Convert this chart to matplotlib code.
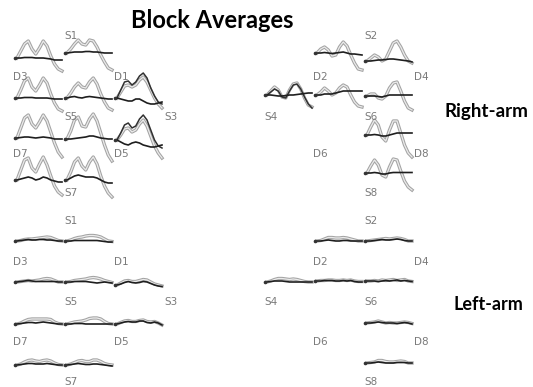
import matplotlib.pyplot as plt
import matplotlib.patheffects as pe
from matplotlib.transforms import offset_copy

W, H = 533, 387

# block window, seconds
time_s = [0, 2, 4, 6, 8, 10, 12, 14, 16, 18, 20, 22, 24]

# --- Right-arm block averages (HbO grey, HbR black) ---
right_hbo = [
    [0, 7, 14, 17, 9, 4, 10, 17, 12, 2, -6, -11, -13],
    [0, 4, 9, 13, 9, 8, 13, 12, 6, -2, -9, -15, -17],
    [0, 8, 17, 20, 11, 7, 13, 20, 15, 4, -5, -11, -13],
    [0, 5, 11, 15, 11, 10, 16, 20, 14, 4, -4, -10, -12],
    [0, 6, 12, 13, 11, 13, 18, 21, 16, 8, 0, -6, -10],
    [0, 10, 20, 23, 14, 10, 16, 23, 17, 6, -5, -14, -19],
    [0, 8, 19, 22, 13, 12, 20, 25, 18, 6, -6, -16, -22],
    [0, 5, 11, 12, 8, 10, 16, 20, 14, 4, -6, -13, -18],
    [0, 10, 20, 22, 12, 8, 16, 23, 15, 4, -6, -12, -15],
    [0, 8, 18, 22, 14, 10, 18, 23, 16, 4, -6, -13, -17],
    [0, 4, 6, 3, -3, -2, 6, 11, 7, -2, -10, -16, -17],
    [0, 3, 6, 4, 0, 2, 10, 18, 20, 14, 6, 0, -2],
    [0, 4, 8, 5, -2, -3, 5, 11, 12, 6, -3, -10, -12],
    [0, 3, 7, 4, 0, 2, 7, 10, 8, 0, -7, -11, -12],
    [0, 2, 2, -2, -3, 0, 8, 13, 14, 5, -5, -12, -14],
    [0, 8, 15, 10, -2, -6, 5, 14, 14, 2, -10, -18, -22],
    [0, 7, 13, 8, -2, -4, 6, 14, 13, 2, -8, -14, -17],
]
right_hbr = [
    [0, 0, 0.5, 0.5, 0.5, 0, 0, 0, -0.5, -1, -2, -2, -2],
    [0, 0.5, 1, 1, 1, 1.5, 1.5, 1, 1, 0.5, 0, 0, 0],
    [0, 0, 0.5, 0.5, 0.5, 0, 0, 0, 0, -0.5, -1, -1, -1],
    [0, 1, 1.5, 0.5, 0, 1, 1.5, 1, 0.5, 0, -0.5, -1, -1],
    [0, -1, -2, -3, -3, -1, -1, -3, -5, -6, -6, -5, -4],
    [0, 0.5, 1, 1, 0.5, 0, 0.5, 1, 0.5, 0, -1, -1, -1],
    [0, 0, 0.5, 1, 1.5, 2, 3, 3, 2, 1, 0.5, 0, 0],
    [0, -2, -4, -5, -3, -2, -3, -5, -6, -7, -7, -6, -5],
    [0, 1, 2, 3, 2, 0, 1, 3, 2, 0, -1, -2, -2],
    [0, 2, 4, 5, 4, 3, 3, 3, 2, 0, -2, -3, -3],
    [0, 0, 0.5, 0, -0.5, 0, 0.5, 1, 0, -1, -1, -1.5, -2],
    [0, 0, 0.5, 1, 1, 1.5, 2, 2, 1.5, 1, 0.5, 0, -1],
    [0, 0, -0.5, -1, -1, -0.5, 0, 0, 0.5, 1, 1.5, 2, 2],
    [0, 0, 1, 1, 1, 2, 3, 4, 4, 4, 4, 4, 4],
    [0, 0, 0, -0.5, -1, 0, 1, 1, 1, 1, 1, 1, 1],
    [0, 0, 0.5, 0, -1, -1, 0, 1, 2, 2, 2, 2, 2],
    [0, 0, 0.5, 0, -1, -1, 0, 0.5, 0.5, 0.5, 0.5, 0.5, 0.5],
]
# HbT where it separates from HbO
right_hbt = {
    4: [0, 8, 16, 17, 13, 16, 22, 25, 20, 10, 2, -4, -6],
    7: [0, 7, 15, 17, 12, 14, 21, 25, 20, 10, 0, -6, -8],
    12: [0, 3, 6, 4, -2, -3, 4, 10, 11, 6, -2, -9, -13],
}

# --- Left-arm block averages ---
left_hbo = [
    [0, 0.5, 1.5, 2, 2, 2.5, 3, 3.5, 4, 3.5, 2, 0.5, 0],
    [0, 1, 2.5, 3.5, 4, 5, 5.5, 5.5, 5, 4, 2, 0, -0.5],
    [0, 0.5, 1, 1.5, 1, 1.5, 2, 3, 3.5, 3, 1.5, 0, 0],
    [0, 0.5, 1.5, 2, 2.5, 3, 4, 4.5, 4, 3, 1.5, 0.5, -0.5],
    [0, 2, 4, 4.5, 3.5, 3.5, 4.5, 5.5, 5, 3, 1, 0, -1],
    [0, 1, 3, 4.5, 5, 5, 5, 5, 5, 4.5, 2, 0.5, 0],
    [0, 1, 2, 2.5, 3, 4, 5.5, 6, 6, 5, 2.5, 0.5, 0],
    [0, 1.5, 3, 3.5, 2.5, 2.5, 3.5, 4, 2.5, 2, 2.5, 1, -1],
    [0, 1, 3, 4.5, 5, 4, 3.5, 4.5, 5, 4, 2, 0.5, 0],
    [0, 1, 2.5, 4, 4.5, 3.5, 3.5, 5, 5, 3.5, 1.5, 0.5, 0],
    [0, 0.5, 2, 3.5, 3.5, 3, 3, 3.5, 3, 2, 1, 0, 0],
    [0, 0.5, 1, 1.5, 2, 2.5, 2, 2.5, 3, 2.5, 1.5, 0, 0],
    [0, 1, 2.5, 3.5, 3.5, 3, 2.5, 3, 2.5, 1.5, 0.5, 0, 0],
    [0, 0.5, 0.5, 1, 1, 0.5, 0.5, 1, 0.5, 1, 0, -0.5, -0.5],
    [0, 0, 0.5, 0, 1, 0.5, 1, 1.5, 0.5, 1, 1.5, 0, -0.5],
    [0, 0.5, 1, 2, 1, 0, 0.5, 0, 0, 0.5, 1, 0.5, -0.5],
    [0, 0.5, 1, 2.5, 2.5, 1.5, 1, 1, 1.5, 2, 1.5, 0, 0],
]
left_hbr = [
    [0, 0.5, 1, 1.5, 1, 1, 1.5, 1.5, 1, 1, 0.5, 0, 0],
    [0, 0, 0.5, 0.5, 0.5, 0.5, 0.5, 0.5, 0.5, 0, -0.5, -1, -1],
    [0, 0.5, 1, 1.5, 1, 0.5, 0.5, 0.5, 0.5, 0.5, 0.5, 0, 0],
    [0, 0, 0.5, 0.5, 0.5, 0.5, 0, -0.5, -1, -0.5, 0, -0.5, -1],
    [0, 1, 2.5, 3.5, 2.5, 2, 2.5, 3.5, 3, 1.5, 0, -1, -1.5],
    [0, 0.5, 1, 1.5, 1.5, 1, 1.5, 2, 1.5, 1, 0.5, 0, 0],
    [0, 0, 0.5, 0.5, 0.5, 0, 0, 0, 0, 0, 0, 0, 0],
    [0, 1, 2, 2.5, 2, 2, 3, 3, 1.5, 1, 2, 1, -1],
    [0, 0.5, 1, 1.5, 1.5, 1, 1, 1, 1.5, 1, 0.5, 0, 0],
    [0, 0.5, 1, 1.5, 1, 0.5, 0.5, 1, 1, 0.5, 0, -0.5, -1],
    [0, 0, 0.5, 1, 0.5, 0, 0, 0.5, 0.5, 0, 0, 0, 0],
    [0, 0, 0.5, 1, 1.5, 1, 1, 1.5, 2, 1.5, 0.5, 0, 0],
    [0, 0.5, 1, 1, 1, 0.5, 0, 0, 0, 0, 0, 0, 0],
    [0, 0, 0.5, 0.5, 0.5, 0, 0, 0.5, 0, 0.5, -0.5, -1, -1],
    [0, 0, 0, -0.5, 0, 0.5, 0, 0.5, 1, 0, 0.5, 0, -0.5],
    [0, 0, 0.5, 1, 0.5, 0, 0, 0, -0.5, 0, 0.5, 0, -1],
    [0, 0, 0.5, 1, 0.5, 0, 0, 0, 0.5, 0.5, 0.5, 0, 0],
]

# optode labels
optode_names = ['S1', 'D3', 'D1', 'S5', 'S3', 'D7', 'D5', 'S7',
                'S2', 'D2', 'D4', 'S4', 'S6', 'D6', 'D8', 'S8']

# layout in pixels: channel plot (left edge, baseline), label centres
chan_upper = [(17, 58), (67, 53), (17, 98), (67, 98), (117, 98),
              (17, 138), (67, 139), (117, 140), (17, 180), (67, 180),
              (317, 53), (367, 61), (267, 95), (317, 95), (367, 96),
              (367, 135), (367, 173)]
chan_lower = [(17, 241), (67, 241), (17, 282), (67, 282), (117, 285),
              (17, 324), (67, 324), (117, 324), (17, 365), (67, 365),
              (317, 241), (367, 241), (267, 282), (317, 281), (367, 281),
              (367, 323), (367, 363)]
label_cols = [71, 20, 121, 71, 171, 20, 121, 71,
              371, 320, 421, 271, 371, 320, 421, 371]
rows_upper = [36, 77, 77, 117, 117, 154, 154, 193]
rows_lower = [221, 262, 262, 302, 302, 342, 342, 382]

fig = plt.figure(figsize=(W / 100, H / 100), dpi=100)
fig.patch.set_facecolor('white')

grey_fx = [pe.Stroke(linewidth=2.4, foreground='#a3a3a3'), pe.Normal()]


def add_channel(x0, y0, hbo, hbr, hbt=None):
    ax = fig.add_axes([x0 / W, 1 - (y0 + 30) / H, 45 / W, 60 / H])
    ax.set_xlim(time_s[0], time_s[-1])
    ax.set_ylim(-30, 30)
    ax.axis('off')
    ax.plot(time_s, hbo, color='#ebebeb', lw=0.9, path_effects=grey_fx,
            clip_on=False, solid_joinstyle='round')
    if hbt is not None:
        ax.plot(time_s, hbt, color='#303030', lw=1.1, clip_on=False)
    ax.plot(time_s, hbr, color='#1e1e1e', lw=1.2, clip_on=False)
    # start marker just left of the trace
    tr = offset_copy(ax.transData, fig=fig, x=-2.5, y=0, units='dots')
    ax.plot(time_s[0], hbr[0], 'o', ms=1.6, color='#333333', transform=tr,
            clip_on=False)


for i, (x0, y0) in enumerate(chan_upper):
    add_channel(x0, y0, right_hbo[i], right_hbr[i], right_hbt.get(i))
for i, (x0, y0) in enumerate(chan_lower):
    add_channel(x0, y0, left_hbo[i], left_hbr[i])

rows_upper_all = rows_upper + rows_upper
rows_lower_all = rows_lower + rows_lower
for name, cx, ry1, ry2 in zip(optode_names, label_cols, rows_upper_all, rows_lower_all):
    for ry in (ry1, ry2):
        fig.text(cx / W, 1 - ry / H, name, ha='center', va='center',
                 fontsize=7.5, color='#7a7a7a', family='DejaVu Sans')

fig.text(212 / W, 1 - 20 / H, 'Block Averages', ha='center', va='center',
         fontsize=17, fontweight='bold', family='Lato')
fig.text(486 / W, 1 - 112 / H, 'Right-arm', ha='center', va='center',
         fontsize=13.5, fontweight='bold', family='Lato')
fig.text(488 / W, 1 - 304 / H, 'Left-arm', ha='center', va='center',
         fontsize=13, fontweight='bold', family='Lato')

fig.savefig('out.png', dpi=100, facecolor='white')
